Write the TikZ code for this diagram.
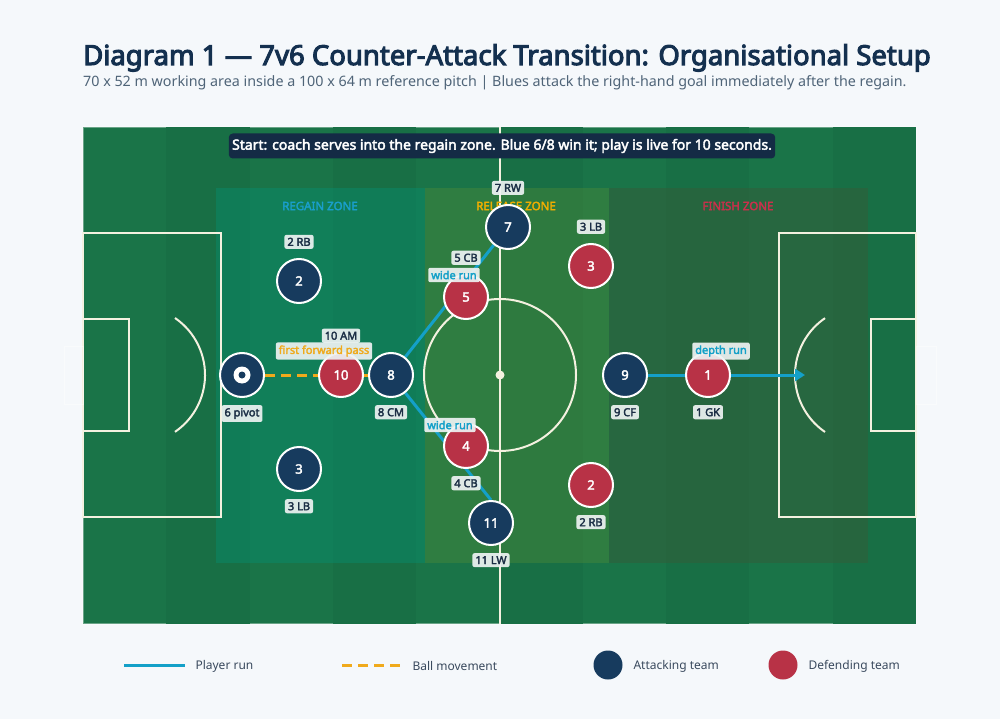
\documentclass[tikz,border=0pt]{standalone}
\usepackage{fontspec}
\setmainfont{Noto Sans}[BoldFont={Noto Sans}, BoldFeatures={FakeBold=2.8}]
\newfontfamily\titlefont{Noto Sans}[FakeBold=3.8]
\usetikzlibrary{positioning, arrows.meta}
\pgfdeclarelayer{front}
\pgfsetlayers{main,front}

\definecolor{bgcol}{HTML}{F5F8FB}
\definecolor{pitchA}{HTML}{1A7448}
\definecolor{pitchB}{HTML}{186F45}
\definecolor{regaincol}{HTML}{0A8A6A}
\definecolor{releasecol}{HTML}{45863B}
\definecolor{finishcol}{HTML}{345C39}
\definecolor{linecol}{HTML}{F4F1E0}
\definecolor{navy}{HTML}{173B5E}
\definecolor{crimson}{HTML}{B83246}
\definecolor{runcol}{HTML}{14A0C8}
\definecolor{passcol}{HTML}{F0AA1C}
\definecolor{tagfill}{HTML}{EEF3F3}
\definecolor{ink}{HTML}{1B2E45}
\definecolor{titlecol}{HTML}{14304F}
\definecolor{subcol}{HTML}{4F6478}
\definecolor{bannercol}{HTML}{142B45}
\definecolor{regaintxt}{HTML}{1A9FCB}
\definecolor{releasetxt}{HTML}{F2AE00}
\definecolor{finishtxt}{HTML}{C9304C}
\definecolor{legtxt}{HTML}{3A4A5E}

\newcommand{\pxsize}[1]{\fontsize{#1}{#1}\selectfont}

\tikzset{
  attack/.style={circle, draw=white, line width=2pt, fill=navy, text=white,
    minimum size=44pt, inner sep=0pt, font=\bfseries\pxsize{13}},
  defend/.style={attack, fill=crimson},
  tag/.style={fill=tagfill, fill opacity=0.92, text opacity=1, rounded corners=2pt,
    inner sep=3pt, text=ink, font=\bfseries\pxsize{11}},
  runtag/.style={tag, text=runcol},
  passtag/.style={tag, text=passcol},
  run/.style={draw=runcol, line width=3pt},
  pass/.style={draw=passcol, line width=3pt, dash pattern=on 10pt off 6pt},
  pline/.style={draw=linecol, line width=2pt},
  zonelbl/.style={font=\bfseries\pxsize{11.5}},
  legend/.style={anchor=west, text=legtxt, font=\pxsize{12}}
}

\begin{document}
\begin{tikzpicture}[x=1pt, y=-1pt]
  \useasboundingbox (0,0) rectangle (1000,719);
  \fill[bgcol] (0,0) rectangle (1000,719);

  \node[anchor=base west, text=titlecol, font=\titlefont\pxsize{27.5}, inner sep=0pt] (title) at (83,65)
    {Diagram 1 — 7v6 Counter-Attack Transition: Organisational Setup};
  \node[anchor=base west, text=subcol, font=\pxsize{14.3}, inner sep=0pt] (subtitle) at (83,87)
    {70 x 52 m working area inside a 100 x 64 m reference pitch | Blues attack the right-hand goal immediately after the regain.};

  % pitch
  \fill[pitchA] (83,127) rectangle (916,624);
  \draw[white, opacity=0.35, line width=2pt] (83,127) rectangle (916,624);
  \foreach \i in {1,3,5,7,9}
    \fill[pitchB] ({83+\i*83.3},127) rectangle ++(83.3,497);

  \fill[regaincol, fill opacity=0.5] (216,188) rectangle (425,563);
  \fill[releasecol, fill opacity=0.5] (425,188) rectangle (609,563);
  \fill[finishcol, fill opacity=0.5] (609,188) rectangle (868,563);

  \draw[pline] (500,127) -- (500,624);
  \draw[pline] (500,375) circle (76);
  \fill[linecol] (500,375) circle (4.5);
  \draw[pline] (83,233) rectangle (221,517);
  \draw[pline] (83,319) rectangle (129,431);
  \draw[pline] (175,318) arc[start angle=-55.6, end angle=55.6, radius=69];
  \draw[pline] (916,233) rectangle (779,517);
  \draw[pline] (916,319) rectangle (871,431);
  \draw[pline] (825,432) arc[start angle=124.4, end angle=235.6, radius=69];
  \draw[white, opacity=0.45, line width=1pt] (83,346) rectangle (64,404);
  \draw[white, opacity=0.45, line width=1pt] (916,346) rectangle (936,404);

  \node[zonelbl, text=regaintxt] (zregain) at (320,206) {REGAIN ZONE};
  \node[zonelbl, text=releasetxt] (zrelease) at (516,206) {RELEASE ZONE};
  \node[zonelbl, text=finishtxt] (zfinish) at (738,206) {FINISH ZONE};

  \node[fill=bannercol, rounded corners=4pt, text=white, font=\bfseries\pxsize{14},
    minimum height=25pt, minimum width=546pt] (start) at (502,146)
    {Start: coach serves into the regain zone. Blue 6/8 win it; play is live for 10 seconds.};

  \begin{pgfonlayer}{front}
    \node[attack] (p6) at (242,375) {};
    \fill[white] (p6) circle (8.5);
    \fill[navy] (p6) circle (3.5);
    \node[defend] (d10) at (341,375) {10};
    \node[attack] (p8) at (391,375) {8};
    \node[attack] (p2) at (299,281) {2};
    \node[attack] (p3) at (299,469) {3};
    \node[defend] (d5) at (466,297) {5};
    \node[attack] (p7) at (508,227) {7};
    \node[defend] (d3) at (591,266) {3};
    \node[defend] (d4) at (466,446) {4};
    \node[attack] (p11) at (491,523) {11};
    \node[defend] (d2) at (591,485) {2};
    \node[attack] (p9) at (625,375) {9};
    \node[defend] (d1) at (708,375) {1};

    \node[tag, below=7pt of p6] (t6) {6 pivot};
    \node[tag, above=9pt of d10] (t10) {10 AM};
    \node[tag, below=7pt of p8] (t8) {8 CM};
    \node[tag, above=9pt of p2] (t2) {2 RB};
    \node[tag, below=7pt of p3] (t3) {3 LB};
    \node[tag, above=9pt of d5] (t5) {5 CB};
    \node[tag, above=9pt of p7] (t7) {7 RW};
    \node[tag, above=9pt of d3] (td3) {3 LB};
    \node[tag, below=7pt of d4] (t4) {4 CB};
    \node[tag, below=7pt of p11] (t11) {11 LW};
    \node[tag, below=7pt of d2] (td2) {2 RB};
    \node[tag, below=7pt of p9] (t9) {9 CF};
    \node[tag, below=7pt of d1] (t1) {1 GK};

    \node[passtag] (lpass) at (324,351) {first forward pass};
    \node[runtag] (lwide1) at (454,275) {wide run};
    \node[runtag] (lwide2) at (450,425) {wide run};
    \node[runtag] (ldepth) at (721,351) {depth run};
  \end{pgfonlayer}

  \coordinate (goalend) at (805,375);
  \draw[pass] (p6) -- (p8);
  \draw[run] (p8) -- (p7);
  \draw[run] (p8) -- (p11.north);
  \draw[run, -{Triangle[length=10pt, width=12pt]}] (p9) -- (goalend);

  % legend
  \draw[run] (124,665) -- (185,665);
  \node[legend] (lrun) at (192,666) {Player run};
  \draw[pass] (342,665) -- (400,665);
  \node[legend] (lball) at (409,666) {Ball movement};
  \fill[navy] (608,665) circle (14.5);
  \node[legend] (latt) at (630,666) {Attacking team};
  \fill[crimson] (783,665) circle (14.5);
  \node[legend] (ldef) at (805,666) {Defending team};
\end{tikzpicture}
\end{document}
